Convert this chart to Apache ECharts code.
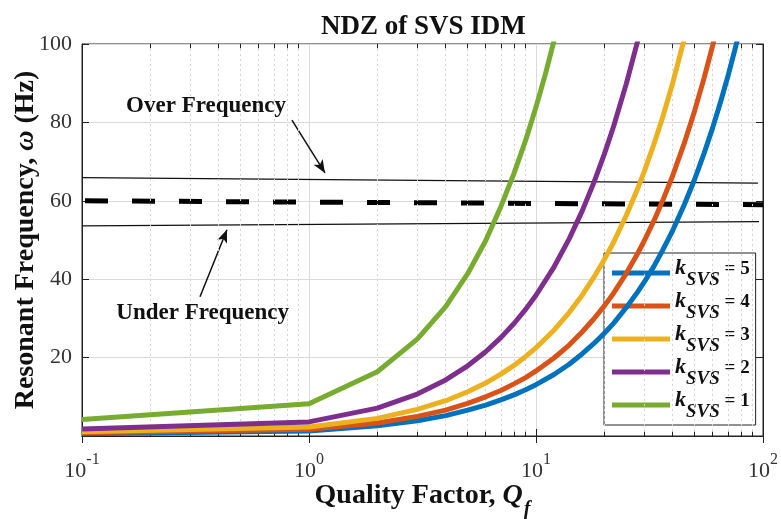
<!DOCTYPE html>
<html>
<head>
<meta charset="utf-8">
<script src="https://cdn.jsdelivr.net/npm/echarts@6/dist/echarts.min.js"></script>
<style>
html,body{margin:0;padding:0;background:#fff;}
#c{width:781px;height:519px;}
</style>
</head>
<body>
<div id="c"></div>
<script>
// ---- data ----
const titleText = 'NDZ of SVS IDM';
const xTicks = [0.1, 1, 10, 100];
const yTicks = [20, 40, 60, 80, 100];

const qGreen = [0.1, 1, 2, 3, 4, 5, 6, 7, 8, 9, 10, 11, 12, 13];
const wGreen = [4.2, 8.2, 16.4, 24.7, 33.0, 41.4, 49.8, 58.5, 67.0, 75.4, 83.9, 92.3, 100.8, 109.2];

const qPurple = [0.1, 1, 2, 3, 4, 5, 6, 7, 8, 9, 10, 12, 14, 16, 18, 20, 22, 25, 28, 30];
const wPurple = [1.8, 3.6, 7.1, 10.7, 14.3, 17.9, 21.5, 25.1, 28.7, 32.3, 35.9, 43.1, 50.3, 57.5, 64.7, 71.9, 79.1, 89.9, 100.6, 107.8];

const qCommon = [0.1, 1, 2, 3, 4, 5, 6, 7, 8, 9, 10, 12, 14, 16, 18, 20, 22, 25, 28, 30, 33, 36, 40, 45, 50, 55, 60, 65, 70, 75, 80];
const wYellow = [1.1, 2.3, 4.5, 6.8, 9.0, 11.3, 13.5, 15.8, 18.0, 20.3, 22.5, 27.0, 31.5, 36.0, 40.5, 45.0, 49.5, 56.3, 63.0, 67.5, 74.3, 81.0, 90.0, 101.3, 112.5];
const wOrange = [0.8, 1.7, 3.3, 5.0, 6.6, 8.3, 10.0, 11.6, 13.3, 14.9, 16.6, 19.9, 23.2, 26.6, 29.9, 33.2, 36.5, 41.5, 46.5, 49.8, 54.8, 59.8, 66.4, 74.7, 83.0, 91.3, 99.6, 107.9];
const wBlue = [0.6, 1.3, 2.6, 3.9, 5.2, 6.6, 7.9, 9.2, 10.5, 11.8, 13.1, 15.7, 18.3, 21.0, 23.6, 26.2, 28.8, 32.8, 36.7, 39.3, 43.2, 47.2, 52.4, 59.0, 65.5, 72.1, 78.6, 85.2, 91.7, 98.3, 104.8];

// threshold lines: [Q, ω] endpoints
const overLineQ = [0.1, 95];   const overLineW = [65.9, 64.5];
const nominalQ = [0.1, 100];   const nominalW = [60.0, 59.0];
const underLineQ = [0.1, 96];  const underLineW = [53.6, 54.7];

// annotations
const overText = { q: 0.352, w: 84.2, text: 'Over Frequency' };
const overArrow = { q0: 0.841, w0: 80.6, q1: 1.176, w1: 67.1 };
const underText = { q: 0.340, w: 31.4, text: 'Under Frequency' };
const underArrow = { q0: 0.331, w0: 35.5, q1: 0.435, w1: 52.6 };

const minorX = [0.2,0.3,0.4,0.5,0.6,0.7,0.8,0.9, 2,3,4,5,6,7,8,9, 20,30,40,50,60,70,80,90];
const seriesNames = ['k = 5', 'k = 4', 'k = 3', 'k = 2', 'k = 1'];
const seriesColors = ['#0072BD', '#D95319', '#EDB120', '#7E2F8E', '#77AC30'];

// ---- build ----
function pairs(q, w) { return w.map((v, i) => [q[i], v]); }
const curveData = [
  pairs(qCommon, wBlue),
  pairs(qCommon, wOrange),
  pairs(qCommon, wYellow),
  pairs(qPurple, wPurple),
  pairs(qGreen, wGreen)
];

const FONT = "'Liberation Serif','Times New Roman',Times,serif";
const chart = echarts.init(document.getElementById('c'), null, { renderer: 'canvas' });

const tickSegs = [];
minorX.forEach(v => {
  tickSegs.push([{ coord: [v, 0] }, { coord: [v, 1.1] }]);
  tickSegs.push([{ coord: [v, 100] }, { coord: [v, 98.9] }]);
});

const series = curveData.map((d, i) => ({
  name: seriesNames[i],
  type: 'line',
  data: d,
  showSymbol: false,
  symbol: 'none',
  clip: true,
  lineStyle: { width: 5, color: seriesColors[i] },
  itemStyle: { color: seriesColors[i] },
  z: 5 + i
}));

series.push({
  name: 'over', type: 'line', data: pairs(overLineQ, overLineW), symbol: 'none', silent: true,
  lineStyle: { width: 1.2, color: '#111' }, z: 3,
  markLine: {
    silent: true, symbol: ['none', 'arrow'], symbolSize: [8, 13],
    label: { show: false },
    lineStyle: { color: '#111', width: 1.5, type: 'solid' },
    data: [
      [{ coord: [overArrow.q0, overArrow.w0] }, { coord: [overArrow.q1, overArrow.w1] }],
      [{ coord: [underArrow.q0, underArrow.w0] }, { coord: [underArrow.q1, underArrow.w1] }]
    ]
  },
  markPoint: {
    silent: true, symbol: 'circle', symbolSize: 1,
    itemStyle: { color: 'rgba(0,0,0,0)' },
    label: { show: true, position: 'inside', color: '#111', fontFamily: FONT, fontWeight: 'bold', fontSize: 23 },
    data: [
      { coord: [overText.q, overText.w], label: { formatter: overText.text } },
      { coord: [underText.q, underText.w], label: { formatter: underText.text } }
    ]
  }
});
series.push({
  name: 'nominal', type: 'line', data: pairs(nominalQ, nominalW), symbol: 'none', silent: true,
  lineStyle: { width: 5, color: '#000', type: [23, 24], dashOffset: -3 }, z: 3
});
series.push({
  name: 'under', type: 'line', data: pairs(underLineQ, underLineW), symbol: 'none', silent: true,
  lineStyle: { width: 1.2, color: '#111' }, z: 3
});
series.push({
  name: 'minorgrid', type: 'line', data: [], silent: true, z: 1,
  markLine: {
    silent: true, symbol: ['none', 'none'], label: { show: false },
    lineStyle: { color: '#d4d4d4', width: 1, type: [2, 3] },
    data: minorX.map(v => ({ xAxis: v }))
  }
});
series.push({
  name: 'minorticks', type: 'line', data: [], silent: true, z: 2,
  markLine: {
    silent: true, symbol: ['none', 'none'], label: { show: false },
    lineStyle: { color: '#222', width: 1, type: 'solid' },
    data: tickSegs
  }
});

const option = {
  backgroundColor: '#fff',
  animation: false,
  title: {
    text: titleText, left: 316, top: 9,
    textStyle: { fontFamily: FONT, fontWeight: 'bold', fontSize: 27, color: '#111' }
  },
  grid: { left: 82, right: 18, top: 44, bottom: 83, containLabel: false, outerBoundsMode: 'none',
          show: true, borderColor: '#222', borderWidth: 1, backgroundColor: '#fff' },
  legend: {
    orient: 'vertical', left: 604, top: 253,
    data: seriesNames,
    icon: 'rect', itemWidth: 58, itemHeight: 5, itemGap: -1,
    padding: [3, 6, 3, 8],
    backgroundColor: '#fff', borderColor: '#222', borderWidth: 1, borderRadius: 0,
    formatter: function (name) { return '{k|k}{s|SVS}{e| = ' + name.split('=')[1].trim() + '}'; },
    textStyle: {
      fontFamily: FONT, color: '#111',
      rich: {
        k: { fontFamily: FONT, fontStyle: 'italic', fontWeight: 'bold', fontSize: 22, lineHeight: 22, padding: [1, 0, 0, 0], verticalAlign: 'top', color: '#111' },
        s: { fontFamily: FONT, fontStyle: 'italic', fontWeight: 'bold', fontSize: 19, lineHeight: 34, verticalAlign: 'bottom', color: '#111' },
        e: { fontFamily: FONT, fontWeight: 'bold', fontSize: 19, lineHeight: 22, padding: [4, 0, 0, 0], verticalAlign: 'top', color: '#111' }
      }
    }
  },
  xAxis: [{
    type: 'log', logBase: 10, min: 0.1, max: 100, position: 'bottom',
    name: '{b|Quality Factor, }{q|Q}{f|f}', nameLocation: 'middle', nameGap: 46, nameMoveOverlap: false,
    nameTextStyle: {
      rich: {
        b: { fontFamily: FONT, fontWeight: 'bold', fontSize: 28, lineHeight: 28, verticalAlign: 'top', color: '#111' },
        q: { fontFamily: FONT, fontWeight: 'bold', fontStyle: 'italic', fontSize: 28, lineHeight: 28, verticalAlign: 'top', color: '#111' },
        f: { fontFamily: FONT, fontWeight: 'bold', fontStyle: 'italic', fontSize: 20, lineHeight: 38, padding: [0, 0, 0, 1], verticalAlign: 'bottom', color: '#111' }
      }
    },
    axisLine: { show: true, lineStyle: { color: '#222', width: 1 } },
    axisTick: { show: true, inside: true, length: 7, lineStyle: { color: '#222' } },
    splitLine: { show: true, lineStyle: { color: '#dadada', width: 1 } },
    minorTick: { show: false }, minorSplitLine: { show: false },
    axisLabel: {
      margin: 16,
      formatter: function (v) { return '{b|10}{s|' + Math.round(Math.log10(v)) + '}'; },
      rich: {
        b: { fontFamily: FONT, fontSize: 22, lineHeight: 30, verticalAlign: 'bottom', color: '#333' },
        s: { fontFamily: FONT, fontSize: 16, lineHeight: 16, verticalAlign: 'top', color: '#333' }
      }
    }
  }, {
    type: 'log', logBase: 10, min: 0.1, max: 100, position: 'top',
    axisLine: { show: true, lineStyle: { color: '#222' } },
    axisTick: { show: true, inside: true, length: 7, lineStyle: { color: '#222' } },
    axisLabel: { show: false }, splitLine: { show: false }
  }],
  yAxis: [{
    type: 'value', min: 0, max: 100, interval: 20, position: 'left',
    name: '{b|Resonant Frequency, }{w|ω}{b| (Hz)}', nameLocation: 'middle', nameGap: 42, nameRotate: 90, nameMoveOverlap: false,
    nameTextStyle: {
      rich: {
        b: { fontFamily: FONT, fontWeight: 'bold', fontSize: 28, color: '#111' },
        w: { fontFamily: FONT, fontWeight: 'bold', fontStyle: 'italic', fontSize: 28, color: '#111' }
      }
    },
    axisLine: { show: true, lineStyle: { color: '#222', width: 1 } },
    axisTick: { show: true, inside: true, length: 7, lineStyle: { color: '#222' } },
    splitLine: { show: true, lineStyle: { color: '#dadada', width: 1 } },
    axisLabel: {
      margin: 10, fontFamily: FONT, fontSize: 22, color: '#333',
      formatter: function (v) { return yTicks.indexOf(v) >= 0 ? String(v) : ''; }
    }
  }, {
    type: 'value', min: 0, max: 100, interval: 20, position: 'right',
    axisLine: { show: true, lineStyle: { color: '#222' } },
    axisTick: { show: true, inside: true, length: 7, lineStyle: { color: '#222' } },
    axisLabel: { show: false }, splitLine: { show: false }
  }],
  series: series
};
chart.setOption(option);
</script>
</body>
</html>
